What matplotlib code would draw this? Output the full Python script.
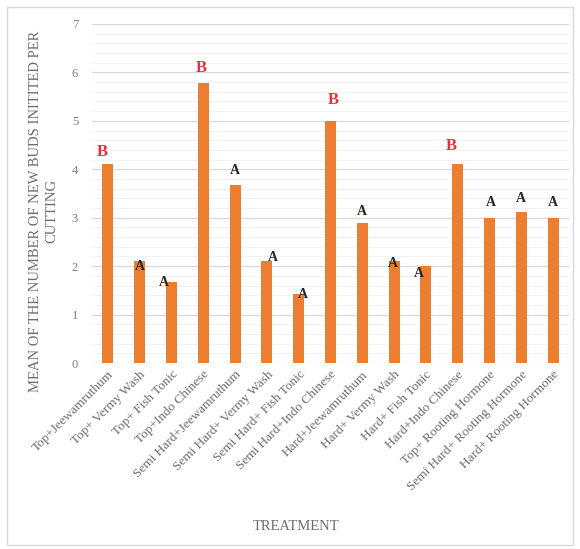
import numpy as np
import matplotlib
matplotlib.use('Agg')
from matplotlib import pyplot as plt
from matplotlib.patches import Rectangle

plt.rcParams['font.family'] = ['Liberation Serif', 'DejaVu Serif']

treatments = ['Top+Jeewamruthum', 'Top+ Vermy Wash', 'Top+ Fish Tonic', 'Top+Indo Chinese',
              'Semi Hard+Jeewamruthum', 'Semi Hard+ Vermy Wash', 'Semi Hard+ Fish Tonic',
              'Semi Hard+Indo Chinese', 'Hard+Jeewamruthum', 'Hard+ Vermy Wash',
              'Hard+ Fish Tonic', 'Hard+Indo Chinese', 'Top+ Rooting Hormone',
              'Semi Hard+ Rooting Hormone', 'Hard+ Rooting Hormone']
means = [4.1, 2.1, 1.67, 5.78, 3.67, 2.1, 1.43, 5.0, 2.9, 2.1, 2.0, 4.1, 3.0, 3.12, 3.0]
groups = ['B', 'A', 'A', 'B', 'A', 'A', 'A', 'B', 'A', 'A', 'A', 'B', 'A', 'A', 'A']

# label offsets (slot fraction, pixels above bar top)
lab_dx = [-0.18, 0.02, -0.25, -0.07, 0.0, 0.18, 0.13, 0.1, 0.0, -0.03, -0.21, -0.21, 0.04, 0.0, 0.0]
lab_dy = [12, -5, 0, 15, 15, 4, -1, 21, 11, -2, -7, 18, 15, 13, 15]

fig = plt.figure(figsize=(5.8, 5.49), dpi=100)
ax = fig.add_axes([92 / 580, 1 - 363 / 549, (569 - 92) / 580, (363 - 24) / 549])

x = np.arange(len(treatments))
ax.bar(x, means, width=0.35, color='#ED7D31', zorder=3)

ax.set_ylim(0, 7)
ax.set_xlim(-0.5, len(treatments) - 0.5)
ax.set_yticks(range(0, 8))
ax.set_yticks(np.arange(0, 7.01, 0.2), minor=True)
ax.grid(axis='y', which='major', color='#D9D9D9', lw=0.9, zorder=0)
ax.grid(axis='y', which='minor', color='#F2F2F2', lw=0.8, zorder=0)
ax.tick_params(axis='both', which='both', length=0, colors='#7F7F7F')
ax.tick_params(axis='y', labelsize=9, pad=10)
for s in ax.spines.values():
    s.set_visible(False)

ax.set_xticks(x)
ax.set_xticklabels(treatments, rotation=45, ha='right', rotation_mode='anchor',
                   fontsize=9.5, color='#6E6E6E')
ax.tick_params(axis='x', pad=4)

for i in range(len(means)):
    if groups[i] == 'B':
        col, fs = '#E8303A', 12
    else:
        col, fs = '#262626', 10
    ax.annotate(groups[i], (x[i] + lab_dx[i], means[i]),
                xytext=(0, lab_dy[i] * 0.72), textcoords='offset points',
                ha='center', va='center', color=col, fontsize=fs,
                fontweight='bold', zorder=4)

fig.text(296 / 580, 1 - 526 / 549, 'TREATMENT', ha='center', va='center',
         fontsize=10.5, color='#6E6E6E')
fig.text(44 / 580, 1 - 211 / 549, 'MEAN OF THE NUMBER OF NEW BUDS INITITED PER\nCUTTING',
         rotation=90, ha='center', va='center', fontsize=10.5, color='#6E6E6E',
         multialignment='center', linespacing=1.35)

fig.patches.append(Rectangle((7 / 580, 4 / 549), 566 / 580, 538 / 549,
                             transform=fig.transFigure, fill=False,
                             edgecolor='#D9D9D9', lw=1.0))

fig.savefig('out.png', dpi=100)
